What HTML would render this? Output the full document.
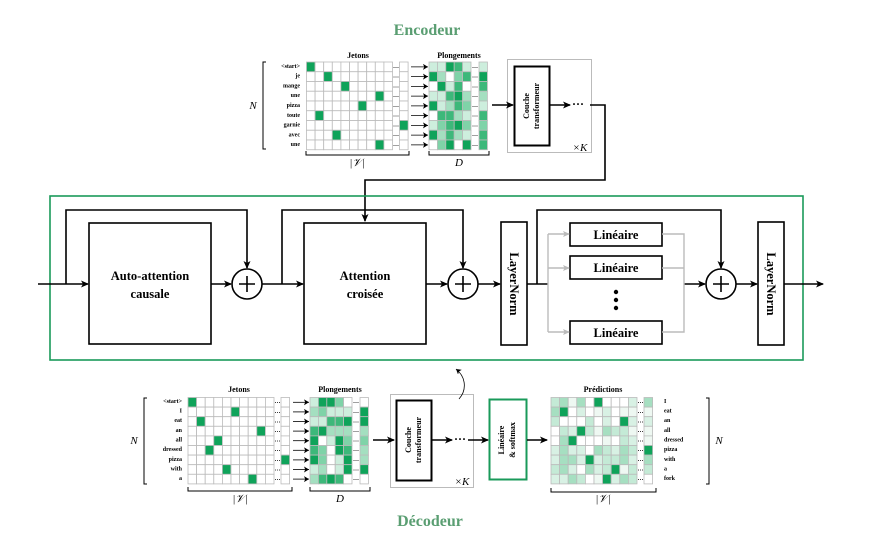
<!DOCTYPE html>
<html><head><meta charset="utf-8"><style>
html,body{margin:0;padding:0;background:#fff;}
svg{display:block;font-family:"Liberation Serif",serif;}
</style></head><body>
<svg id="s" width="869" height="542" viewBox="0 0 869 542" xmlns="http://www.w3.org/2000/svg">
<defs>
<marker id="a" markerWidth="8" markerHeight="8" refX="7" refY="4" orient="auto" markerUnits="userSpaceOnUse"><path d="M0,0.5 L8,4 L0,7.5 L2,4 z" fill="#000"/></marker>
<marker id="as" markerWidth="5" markerHeight="6" refX="5" refY="3" orient="auto" markerUnits="userSpaceOnUse"><path d="M0,0 L5,3 L0,6 L1.2,3 z" fill="#000"/></marker>
<marker id="ag" markerWidth="7" markerHeight="7" refX="6" refY="3.5" orient="auto" markerUnits="userSpaceOnUse"><path d="M0,0.5 L7,3.5 L0,6.5 L1.5,3.5 z" fill="#bbb"/></marker>
</defs>
<g id="cells"></g>
<!-- titles -->
<text x="427" y="35" text-anchor="middle" font-size="16" font-weight="bold" fill="#5a9e72">Encodeur</text>
<text x="430" y="526" text-anchor="middle" font-size="16" font-weight="bold" fill="#5a9e72">Décodeur</text>

<!-- Encoder -->
<g font-size="8" font-weight="bold" text-anchor="middle">
<text x="358" y="58">Jetons</text><text x="459" y="58">Plongements</text>
<text x="239" y="392">Jetons</text><text x="340" y="392">Plongements</text>
<text x="603" y="392">Prédictions</text>
</g>
<g font-size="6" font-weight="bold" text-anchor="end" id="encl">
<text x="300" y="68">&lt;start&gt;</text><text x="300" y="77.5">je</text><text x="300" y="87.5">mange</text><text x="300" y="97">une</text><text x="300" y="107">pizza</text><text x="300" y="117">toute</text><text x="300" y="126.5">garnie</text><text x="300" y="136.5">avec</text><text x="300" y="146">une</text>
</g>
<g font-size="6" font-weight="bold" text-anchor="end">
<text x="182" y="403">&lt;start&gt;</text><text x="182" y="412.5">I</text><text x="182" y="422">eat</text><text x="182" y="432">an</text><text x="182" y="441.5">all</text><text x="182" y="451">dressed</text><text x="182" y="461">pizza</text><text x="182" y="470.5">with</text><text x="182" y="480">a</text>
</g>
<g font-size="6" font-weight="bold">
<text x="664" y="403">I</text><text x="664" y="412.5">eat</text><text x="664" y="422">an</text><text x="664" y="432">all</text><text x="664" y="441.5">dressed</text><text x="664" y="451">pizza</text><text x="664" y="461">with</text><text x="664" y="470.5">a</text><text x="664" y="480">fork</text>
</g>
<g fill="none" stroke="#000" stroke-width="1">
<path d="M266,62 H263 V149 H266"/>
<path d="M147,398 H144 V484 H147"/>
<path d="M706,398 H709 V484 H706"/>
<path d="M306,151 V155 H409 V151"/><path d="M429,151 V155 H489 V151"/>
<path d="M188,487 V491 H292 V487"/><path d="M310,487 V491 H370 V487"/>
<path d="M551,488 V492 H656 V488"/>
</g>
<g font-size="11" font-style="italic" text-anchor="middle">
<text x="253" y="109">N</text><text x="134" y="444">N</text><text x="719" y="444">N</text>
<text x="357" y="166">|𝒱|</text><text x="459" y="166">D</text>
<text x="240" y="502">|𝒱|</text><text x="340" y="502">D</text><text x="603" y="502">|𝒱|</text>
<text x="580" y="151">×K</text><text x="462" y="485">×K</text>
</g>
<g id="arrs" stroke="#000" stroke-width="0.8" marker-end="url(#as)"></g>

<!-- encoder transformer -->
<rect x="507.5" y="59.5" width="84" height="93" fill="none" stroke="#bbb"/>
<rect x="514.5" y="66.5" width="35" height="79" fill="none" stroke="#000" stroke-width="2"/>
<text transform="translate(529,106) rotate(-90)" font-size="8" font-weight="bold" text-anchor="middle">Couche</text>
<text transform="translate(539,106) rotate(-90)" font-size="8" font-weight="bold" text-anchor="middle">transformeur</text>
<g stroke="#000" stroke-width="1.6" fill="none">
<line x1="492" y1="105" x2="513" y2="105" marker-end="url(#a)"/>
<line x1="550" y1="105" x2="570" y2="105" marker-end="url(#a)"/>
<path d="M590,105 H605 V180 H365 V221" marker-end="url(#a)"/>
</g>
<text x="578" y="108" font-size="12" font-weight="bold" text-anchor="middle">···</text>

<!-- main block -->
<rect x="50" y="196" width="753" height="164" fill="none" stroke="#1a9a5a" stroke-width="1.6"/>
<g stroke="#000" stroke-width="1.6" fill="none">
<rect x="89" y="223" width="122" height="121"/>
<rect x="304" y="223" width="122" height="121"/>
<rect x="501" y="222" width="26" height="123"/>
<rect x="758" y="222" width="26" height="123"/>
<rect x="570" y="223" width="92" height="23"/>
<rect x="570" y="256" width="92" height="23"/>
<rect x="570" y="321" width="92" height="23"/>
<circle cx="247" cy="284" r="15"/><circle cx="463" cy="284" r="15"/><circle cx="721" cy="284" r="15"/>
<path d="M239,284 H255 M247,276 V292 M455,284 H471 M463,276 V292 M713,284 H729 M721,276 V292"/>
<line x1="38" y1="284" x2="88" y2="284" marker-end="url(#a)"/>
<path d="M66,284 V210 H247 V268" marker-end="url(#a)"/>
<line x1="211" y1="284" x2="231" y2="284" marker-end="url(#a)"/>
<line x1="262" y1="284" x2="303" y2="284" marker-end="url(#a)"/>
<path d="M282,284 V210 H463 V268" marker-end="url(#a)"/>
<line x1="426" y1="284" x2="447" y2="284" marker-end="url(#a)"/>
<line x1="478" y1="284" x2="500" y2="284" marker-end="url(#a)"/>
<line x1="527" y1="284" x2="548" y2="284"/>
<path d="M537,284 V210 H721 V268" marker-end="url(#a)"/>
<line x1="684" y1="284" x2="705" y2="284" marker-end="url(#a)"/>
<line x1="736" y1="284" x2="757" y2="284" marker-end="url(#a)"/>
<line x1="784" y1="284" x2="823" y2="284" marker-end="url(#a)"/>
</g>
<g stroke="#bbb" stroke-width="1.4" fill="none">
<path d="M548,234 V332"/>
<line x1="548" y1="234" x2="569" y2="234" marker-end="url(#ag)"/>
<line x1="548" y1="268" x2="569" y2="268" marker-end="url(#ag)"/>
<line x1="548" y1="332" x2="569" y2="332" marker-end="url(#ag)"/>
<path d="M662,234 H684 V332 H662 M662,268 H684"/>
</g>
<circle cx="616" cy="292" r="2.2"/><circle cx="616" cy="300" r="2.2"/><circle cx="616" cy="308" r="2.2"/>
<g font-size="12.5" font-weight="bold" text-anchor="middle">
<text x="150" y="280">Auto-attention</text><text x="150" y="298">causale</text>
<text x="365" y="280">Attention</text><text x="365" y="298">croisée</text>
<text x="616" y="239">Linéaire</text><text x="616" y="272">Linéaire</text><text x="616" y="337">Linéaire</text>
<text transform="translate(510,284) rotate(90)">LayerNorm</text>
<text transform="translate(767,284) rotate(90)">LayerNorm</text>
</g>

<!-- decoder transformer -->
<rect x="390.5" y="394.5" width="83" height="93" fill="none" stroke="#bbb"/>
<rect x="396.5" y="400.5" width="35" height="80" fill="none" stroke="#000" stroke-width="2"/>
<text transform="translate(411,440) rotate(-90)" font-size="8" font-weight="bold" text-anchor="middle">Couche</text>
<text transform="translate(421,440) rotate(-90)" font-size="8" font-weight="bold" text-anchor="middle">transformeur</text>
<rect x="489.5" y="399.5" width="37" height="80" fill="none" stroke="#1a9a5a" stroke-width="2"/>
<text transform="translate(504,440) rotate(-90)" font-size="8" font-weight="bold" text-anchor="middle">Linéaire</text>
<text transform="translate(515,440) rotate(-90)" font-size="8" font-weight="bold" text-anchor="middle">&amp; softmax</text>
<g stroke="#000" stroke-width="1.6" fill="none">
<line x1="373" y1="440" x2="394" y2="440" marker-end="url(#a)"/>
<line x1="432" y1="440" x2="452" y2="440" marker-end="url(#a)"/>
<line x1="468" y1="440" x2="488" y2="440" marker-end="url(#a)"/>
<line x1="527" y1="440" x2="547" y2="440" marker-end="url(#a)"/>
</g>
<text x="460" y="443" font-size="12" font-weight="bold" text-anchor="middle">···</text>
<path d="M459,399 C467,390 466,377 456,369" fill="none" stroke="#000" stroke-width="0.8" marker-end="url(#as)"/>
</svg>
<script>
var NS="http://www.w3.org/2000/svg",g=document.getElementById('cells'),ar=document.getElementById('arrs');
function r(x,y,w,h,f){var e=document.createElementNS(NS,'rect');e.setAttribute('x',x);e.setAttribute('y',y);e.setAttribute('width',w);e.setAttribute('height',h);e.setAttribute('fill',f);e.setAttribute('stroke','#bbb');e.setAttribute('stroke-width','0.8');g.appendChild(e);}
function t(x,y){var e=document.createElementNS(NS,'text');e.setAttribute('x',x);e.setAttribute('y',y);e.setAttribute('font-size','6');e.setAttribute('font-weight','bold');e.setAttribute('text-anchor','middle');e.textContent='···';g.appendChild(e);}
var seed=7;function rnd(){seed=(seed*9301+49297)%233280;return seed/233280;}
var G='#0fa35a',sh=['#0fa35a','#3db87a','#7fd3a8','#cdeedd','#ffffff','#0fa35a','#a4dfc0'],pl=['#ffffff','#eef8f2','#d8f1e4','#c4ead6','#a6dfc1'];
function onehot(x0,y0,rows,hot,cw,rh){for(var i=0;i<9;i++){var y=y0+i*rh;for(var j=0;j<10;j++)r(x0+j*cw,y,cw,rh,hot[i]==j?G:'#fff');t(x0+10*cw+3.5,y+rh*0.75);r(x0+10*cw+7,y,cw,rh,hot[i]==10?G:'#fff');}}
function emb(x0,y0,cw,rh){for(var i=0;i<9;i++){var y=y0+i*rh;for(var j=0;j<5;j++)r(x0+j*cw,y,cw,rh,sh[Math.floor(rnd()*sh.length)]);t(x0+5*cw+4,y+rh*0.75);r(x0+5*cw+8,y,cw,rh,sh[Math.floor(rnd()*sh.length)]);}}
function pred(x0,y0,hot,cw,rh){for(var i=0;i<9;i++){var y=y0+i*rh;for(var j=0;j<10;j++)r(x0+j*cw,y,cw,rh,hot[i]==j?G:pl[Math.floor(rnd()*pl.length)]);t(x0+10*cw+3.5,y+rh*0.75);r(x0+10*cw+7,y,cw,rh,hot[i]==10?G:pl[Math.floor(rnd()*pl.length)]);}}
function arrows(x1,x2,y0,rh){for(var i=0;i<9;i++){var l=document.createElementNS(NS,'line'),y=y0+i*rh+rh/2;l.setAttribute('x1',x1);l.setAttribute('x2',x2);l.setAttribute('y1',y);l.setAttribute('y2',y);ar.appendChild(l);}}
onehot(306.5,62,9,[0,2,4,8,6,1,10,3,8],8.6,9.75);
emb(429,62,8.4,9.75);arrows(411,428,62,9.75);
onehot(188,397.5,9,[0,5,1,8,3,2,10,4,7],8.6,9.6);
emb(310,397.5,8.4,9.6);arrows(293,309,397.5,9.6);
pred(551,397.5,[5,1,8,3,2,10,4,7,6],8.6,9.6);
</script>
</body></html>
